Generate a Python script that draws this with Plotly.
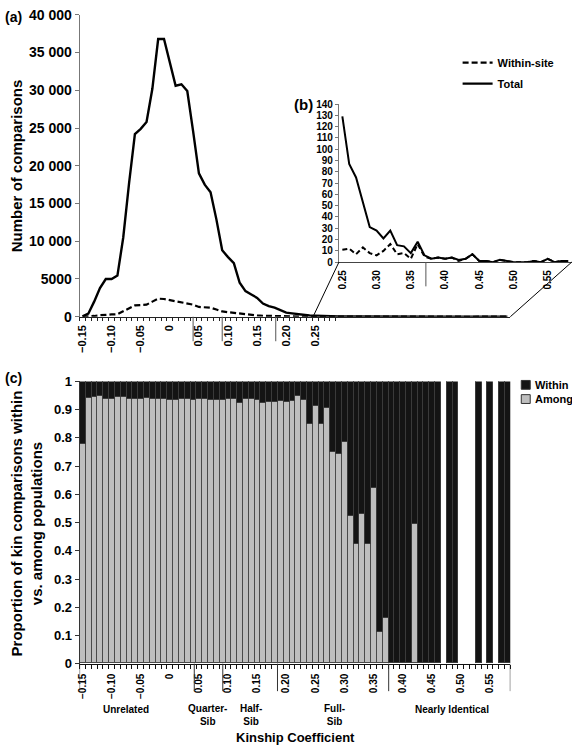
import plotly.graph_objects as go

W, H = 572, 756
FONT = "Liberation Sans, Arial, Helvetica, sans-serif"

# ---------------- data ----------------
kinship = [-0.15, -0.14, -0.13, -0.12, -0.11, -0.10, -0.09, -0.08, -0.07, -0.06,
           -0.05, -0.04, -0.03, -0.02, -0.01, 0.00, 0.01, 0.02, 0.03, 0.04,
           0.05, 0.06, 0.07, 0.08, 0.09, 0.10, 0.11, 0.12, 0.13, 0.14,
           0.15, 0.16, 0.17, 0.18, 0.19, 0.20, 0.21, 0.22, 0.23, 0.24,
           0.25, 0.26, 0.27, 0.28, 0.29, 0.30, 0.31, 0.32, 0.33, 0.34,
           0.35, 0.36, 0.37, 0.38, 0.39, 0.40, 0.41, 0.42, 0.43, 0.44,
           0.45, 0.46, 0.47, 0.48, 0.49, 0.50, 0.51, 0.52, 0.53, 0.54,
           0.55, 0.56, 0.57, 0.58]

total = [50, 400, 2000, 3800, 5000, 5000, 5450, 10500, 17700, 24200,
         24900, 25800, 30200, 36800, 36800, 33700, 30600, 30800, 29900, 24600,
         19000, 17500, 16500, 12900, 8800, 7900, 7100, 4500, 3400, 2950,
         2500, 1750, 1400, 1200, 850, 550, 450, 330, 230, 170,
         129, 87, 75, 52, 31, 28, 21, 28, 15, 14,
         8, 18, 6, 3, 4, 3, 4, 2, 3, 7,
         1, 1, 0, 2, 1, 0, 0, 0, 1, 0,
         3, 0, 1, 1]

within_site = [0, 30, 100, 200, 280, 300, 330, 700, 1150, 1500,
               1550, 1600, 2000, 2400, 2350, 2200, 2050, 1950, 1850, 1600,
               1300, 1250, 1200, 950, 700, 600, 500, 380, 280, 220,
               170, 130, 100, 80, 60, 45, 35, 25, 18, 14,
               11, 12, 7, 13, 8, 6, 10, 16, 7, 8,
               3, 16, 5, 3, 4, 3, 4, 1, 3, 7,
               1, 1, 0, 2, 1, 0, 0, 0, 1, 0,
               3, 0, 1, 1]

among_prop = [0.777, 0.940, 0.942, 0.948, 0.937, 0.937, 0.945, 0.942, 0.937, 0.937,
              0.937, 0.939, 0.937, 0.937, 0.937, 0.934, 0.934, 0.937, 0.937, 0.934,
              0.937, 0.937, 0.934, 0.932, 0.932, 0.935, 0.935, 0.921, 0.935, 0.935,
              0.934, 0.922, 0.927, 0.927, 0.928, 0.927, 0.929, 0.946, 0.931, 0.847,
              0.913, 0.848, 0.904, 0.748, 0.740, 0.783, 0.521, 0.423, 0.528, 0.423,
              0.620, 0.111, 0.160, 0, 0, 0, 0, 0.495, 0, 0,
              0, 0, None, 0, 0, None, None, None, 0, None,
              0, None, 0, 0]
within_prop = [None if a is None else round(1 - a, 3) for a in among_prop]

main_ticks = [-0.15, -0.10, -0.05, 0.0, 0.05, 0.10, 0.15, 0.20, 0.25]
main_ticktext = ["\u22120.15", "\u22120.10", "\u22120.05", "0", "0.05", "0.10", "0.15", "0.20", "0.25"]
inset_ticks = [0.25, 0.30, 0.35, 0.40, 0.45, 0.50, 0.55]
inset_ticktext = ["0.25", "0.30", "0.35", "0.40", "0.45", "0.50", "0.55"]
bottom_ticks = [-0.15, -0.10, -0.05, 0.0, 0.05, 0.10, 0.15, 0.20, 0.25, 0.30, 0.35, 0.40, 0.45, 0.50, 0.55]
bottom_ticktext = ["\u22120.15", "\u22120.10", "\u22120.05", "0", "0.05", "0.10", "0.15", "0.20",
                   "0.25", "0.30", "0.35", "0.40", "0.45", "0.50", "0.55"]
count_ticks = [0, 5000, 10000, 15000, 20000, 25000, 30000, 35000, 40000]
count_ticktext = ["0", "5000", "10 000", "15 000", "20 000", "25 000", "30 000", "35 000", "40 000"]
inset_yticks = [0, 10, 20, 30, 40, 50, 60, 70, 80, 90, 100, 110, 120, 130, 140]
prop_ticks = [0, 0.1, 0.2, 0.3, 0.4, 0.5, 0.6, 0.7, 0.8, 0.9, 1]
prop_ticktext = ["0", "0.1", "0.2", "0.3", "0.4", "0.5", "0.6", "0.7", "0.8", "0.9", "1"]

groups = ["Unrelated", "Quarter-<br>Sib", "Half-<br>Sib", "Full-<br>Sib", "Nearly Identical"]
bar_series = ["Within", "Among"]

GRAY = "#bebebe"
BLACK = "#141414"


def fx(px):
    return px / W


def fy(py):
    return 1 - py / H


boundaries = [round(-0.155 + 0.01 * k, 3) for k in range(75)]
main_minor = [b for b in boundaries if b <= 0.286]

fig = go.Figure()

# (a) main lines
fig.add_trace(go.Scatter(x=kinship, y=within_site, mode="lines", name="Within-site",
                         line=dict(color="black", width=2.2, dash="6px,3px"),
                         xaxis="x", yaxis="y", legend="legend", legendgroup="w"))
fig.add_trace(go.Scatter(x=kinship, y=total, mode="lines", name="Total",
                         line=dict(color="black", width=2.4),
                         xaxis="x", yaxis="y", legend="legend", legendgroup="t"))
# (b) inset
fig.add_trace(go.Scatter(x=kinship[40:], y=within_site[40:], mode="lines", showlegend=False,
                         line=dict(color="black", width=2, dash="5px,3px"), xaxis="x2", yaxis="y2"))
fig.add_trace(go.Scatter(x=kinship[40:], y=total[40:], mode="lines", showlegend=False,
                         line=dict(color="black", width=2), xaxis="x2", yaxis="y2"))
# (c) stacked proportions
fig.add_trace(go.Bar(x=kinship, y=among_prop, name="Among", showlegend=False,
                     marker=dict(color=GRAY, line=dict(color="#4a4a4a", width=1)),
                     xaxis="x3", yaxis="y3"))
fig.add_trace(go.Bar(x=kinship, y=within_prop, name="Within", showlegend=False,
                     marker=dict(color=BLACK, line=dict(color="#3a3a3a", width=1)),
                     xaxis="x3", yaxis="y3"))

axis_common = dict(showgrid=False, zeroline=False, showline=True, tickmode="array")

fig.update_layout(
    width=W, height=H, autosize=False,
    margin=dict(l=0, r=0, t=0, b=0),
    paper_bgcolor="white", plot_bgcolor="rgba(0,0,0,0)",
    font=dict(family=FONT, color="black", size=11, weight="bold"),
    barmode="stack", bargap=0,
    xaxis=dict(**axis_common, domain=[fx(77), fx(510)], range=[-0.155, 0.585], anchor="y",
               linecolor="#222", linewidth=1, tickvals=main_ticks, ticktext=main_ticktext,
               ticks="", tickangle=-90, tickfont=dict(size=11), ticklabelstandoff=3,
               minor=dict(tickmode="array", tickvals=main_minor, ticks="outside",
                          ticklen=3, tickcolor="#222", tickwidth=1)),
    yaxis=dict(**axis_common, domain=[fy(316), fy(8)], range=[0, 40000], anchor="x",
               linecolor="#777", linewidth=1, tickvals=count_ticks, ticktext=count_ticktext,
               ticks="outside", ticklen=4, tickcolor="#777", tickfont=dict(size=14)),
    xaxis2=dict(**axis_common, domain=[fx(337.7), fx(571.7)], range=[0.245, 0.585], anchor="y2",
                linecolor="#444", linewidth=1, tickvals=inset_ticks, ticktext=inset_ticktext,
                ticks="", tickangle=-90, tickfont=dict(size=10), ticklabelstandoff=3),
    yaxis2=dict(**axis_common, domain=[fy(260.3), fy(99)], range=[0, 140], anchor="x2",
                linecolor="#777", linewidth=1, tickvals=inset_yticks,
                ticks="outside", ticklen=3, tickcolor="#777", tickfont=dict(size=10)),
    xaxis3=dict(**axis_common, domain=[fx(77), fx(510)], range=[-0.155, 0.585], anchor="y3",
                linecolor="#111", linewidth=1, tickvals=bottom_ticks, ticktext=bottom_ticktext,
                ticks="", tickangle=-90, tickfont=dict(size=10), ticklabelstandoff=5,
                minor=dict(tickmode="array", tickvals=boundaries, ticks="outside",
                           ticklen=4, tickcolor="#111", tickwidth=1)),
    yaxis3=dict(**axis_common, domain=[fy(670), fy(382)], range=[0, 1], anchor="x3",
                linecolor="#333", linewidth=1, tickvals=prop_ticks, ticktext=prop_ticktext,
                ticks="outside", ticklen=4, tickcolor="#333", tickfont=dict(size=13)),
    legend=dict(x=fx(457), y=fy(42), xanchor="left", yanchor="top", bgcolor="rgba(0,0,0,0)",
                font=dict(size=11), tracegroupgap=2, itemwidth=30),
)

shapes = []
# separator lines below main axis
for v in [0.04, 0.09, 0.182]:
    shapes.append(dict(type="line", xref="x", yref="paper", x0=v, x1=v, y0=fy(316), y1=fy(341),
                       line=dict(color="#555", width=1)))
# separator below inset axis
shapes.append(dict(type="line", xref="x2", yref="paper", x0=0.372, x1=0.372, y0=fy(260.3), y1=fy(285),
                   line=dict(color="#555", width=1)))
# separator lines below bottom axis
for v in [-0.155, 0.042, 0.091, 0.185, 0.376, 0.585]:
    shapes.append(dict(type="line", xref="x3", yref="paper", x0=v, x1=v, y0=fy(670), y1=fy(698),
                       line=dict(color="#333", width=1)))
# zoom connector lines (parallelogram) from main axis to inset
shapes.append(dict(type="line", xref="paper", yref="paper", x0=fx(311.7), y0=fy(316),
                   x1=fx(337.7), y1=fy(260.3), line=dict(color="black", width=1)))
shapes.append(dict(type="line", xref="paper", yref="paper", x0=fx(510), y0=fy(316),
                   x1=fx(571.7), y1=fy(260.3), line=dict(color="black", width=1)))

annotations = [
    dict(text="(a)", x=fx(0), y=fy(10), xanchor="left", yanchor="middle", font=dict(size=14)),
    dict(text="(b)", x=fx(302), y=fy(99), xanchor="center", yanchor="middle", font=dict(size=15)),
    dict(text="(c)", x=fx(0), y=fy(379), xanchor="left", yanchor="middle", font=dict(size=14)),
    dict(text="Number of comparisons", x=fx(13.5), y=fy(162), textangle=-90,
         xanchor="center", yanchor="middle", font=dict(size=15)),
    dict(text="Proportion of kin comparisons within<br>vs. among populations", x=fx(24), y=fy(527),
         textangle=-90, xanchor="center", yanchor="middle", font=dict(size=15)),
    dict(text="Kinship Coefficient", x=fx(294), y=fy(745), xanchor="center", yanchor="middle",
         font=dict(size=13)),
]
group_x = [124, 206, 249, 333, 451]
group_y = [717, 722, 722, 722, 717]
for g, gx, gy in zip(groups, group_x, group_y):
    annotations.append(dict(text=g, x=fx(gx), y=fy(gy), xanchor="center", yanchor="middle",
                            font=dict(size=10)))

# key for panel (c): swatches + labels
for name, color, top in zip(bar_series, [BLACK, GRAY], [381, 395.5]):
    shapes.append(dict(type="rect", xref="paper", yref="paper", x0=fx(521), x1=fx(530),
                       y0=fy(top + 9), y1=fy(top), fillcolor=color,
                       line=dict(color="#333", width=1)))
    annotations.append(dict(text=name, x=fx(532.5), y=fy(top + 4.5), xanchor="left",
                            yanchor="middle", font=dict(size=11)))

for a in annotations:
    a.update(xref="paper", yref="paper", showarrow=False)

fig.update_layout(shapes=shapes, annotations=annotations)

fig.write_html(
    "out.html",
    config={"displayModeBar": False},
    post_script="document.body.style.margin='0';document.body.style.overflow='hidden';",
)
